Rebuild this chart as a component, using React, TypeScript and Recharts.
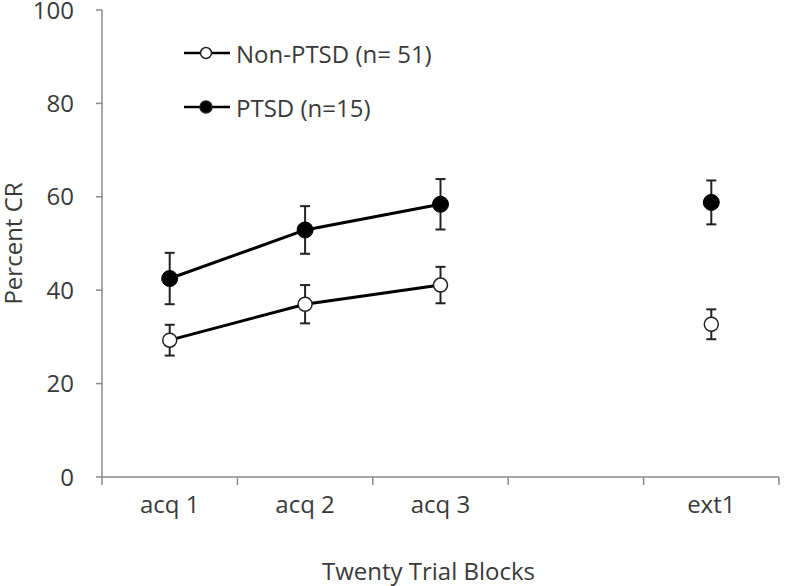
import { LineChart, Line, XAxis, YAxis, ErrorBar, Legend } from "recharts";

const blocks = ["acq 1", "acq 2", "acq 3", "", "ext1"];
const nonPtsd = [29.3, 37.0, 41.1, null, 32.7];
const nonPtsdErr = [3.3, 4.1, 3.9, null, 3.2];
const ptsd = [42.5, 52.9, 58.4, null, 58.8];
const ptsdErr = [5.5, 5.1, 5.4, null, 4.7];
const yTicks = [0, 20, 40, 60, 80, 100];
const xBounds = [0, 1, 2, 3, 4, 5];

const data = blocks.map((block, i) => ({
  x: i + 0.5,
  block,
  nonPtsd: nonPtsd[i],
  nonPtsdErr: nonPtsdErr[i],
  ptsd: ptsd[i],
  ptsdErr: ptsdErr[i],
}));

const W = 787;
const H = 586;
const AXIS_W = 102;
const MARGIN = { top: 10, right: 8, bottom: 0, left: 0 };
const band = (W - AXIS_W - MARGIN.right) / blocks.length;

const textColor = "#3a3a3a";
const axisColor = "#8a8a8a";

const BlockTick = (props: any) => {
  const { x, y, payload } = props;
  const label = blocks[payload.value];
  if (!label) return null;
  return (
    <text
      x={x + band / 2}
      y={y + 28}
      textAnchor="middle"
      fontSize={24}
      fill={textColor}
    >
      {label}
    </text>
  );
};

const legendItems = [
  { name: "Non-PTSD (n= 51)", fill: "#fff", r: 5.5 },
  { name: "PTSD (n=15)", fill: "#000", r: 6 },
];

const renderLegend = () => (
  <div>
    {legendItems.map((item) => (
      <div
        key={item.name}
        style={{ display: "flex", alignItems: "center", height: 54 }}
      >
        <svg width={52} height={20}>
          <line x1={0} x2={46} y1={10} y2={10} stroke="#000" strokeWidth={2.5} />
          <circle
            cx={22}
            cy={10}
            r={item.r}
            fill={item.fill}
            stroke="#222"
            strokeWidth={1.5}
          />
        </svg>
        <span style={{ fontSize: 24, color: textColor, whiteSpace: "nowrap" }}>
          {item.name}
        </span>
      </div>
    ))}
  </div>
);

export default function App() {
  return (
    <div
      style={{
        position: "absolute",
        top: 0,
        left: 0,
        width: W,
        height: H,
        fontFamily: "'Open Sans', sans-serif",
        background: "#fff",
      }}
    >
      <LineChart width={W} height={H} data={data} margin={MARGIN}>
        <XAxis
          type="number"
          dataKey="x"
          domain={[0, 5]}
          ticks={xBounds}
          interval={0}
          height={H - MARGIN.top - 467}
          tickSize={8}
          tickMargin={0}
          tick={<BlockTick />}
          stroke={axisColor}
          strokeWidth={1.5}
          label={{
            content: (p: any) => {
              const vb = p.viewBox;
              return (
                <text
                  x={vb.x + vb.width / 2 - 12}
                  y={vb.y + 103}
                  textAnchor="middle"
                  fontSize={24}
                  fill={textColor}
                >
                  Twenty Trial Blocks
                </text>
              );
            },
          }}
        />
        <YAxis
          type="number"
          domain={[0, 100]}
          ticks={yTicks}
          interval={0}
          width={AXIS_W}
          tickSize={6}
          tickMargin={22}
          stroke={axisColor}
          strokeWidth={1.5}
          tick={{ fontSize: 24, fill: textColor }}
          label={{
            content: (p: any) => {
              const vb = p.viewBox;
              const cx = vb.x + 12;
              const cy = vb.y + vb.height / 2;
              return (
                <text
                  x={cx}
                  y={cy}
                  transform={`rotate(-90 ${cx} ${cy})`}
                  textAnchor="middle"
                  dominantBaseline="central"
                  fontSize={24}
                  fill={textColor}
                >
                  Percent CR
                </text>
              );
            },
          }}
        />
        <Legend
          content={renderLegend}
          layout="vertical"
          align="center"
          verticalAlign="middle"
          wrapperStyle={{ top: 26, left: 184, width: 320 }}
        />
        <Line
          dataKey="nonPtsd"
          name="Non-PTSD (n= 51)"
          stroke="#000"
          strokeWidth={3}
          dot={{ r: 7, fill: "#fff", stroke: "#222", strokeWidth: 1.5 }}
          activeDot={false}
          isAnimationActive={false}
        >
          <ErrorBar
            dataKey="nonPtsdErr"
            direction="y"
            width={5}
            stroke="#222"
            strokeWidth={2}
            isAnimationActive={false}
          />
        </Line>
        <Line
          dataKey="ptsd"
          name="PTSD (n=15)"
          stroke="#000"
          strokeWidth={3}
          dot={{ r: 8, fill: "#000", stroke: "#000", strokeWidth: 1 }}
          activeDot={false}
          isAnimationActive={false}
        >
          <ErrorBar
            dataKey="ptsdErr"
            direction="y"
            width={5}
            stroke="#222"
            strokeWidth={2}
            isAnimationActive={false}
          />
        </Line>
      </LineChart>
    </div>
  );
}
